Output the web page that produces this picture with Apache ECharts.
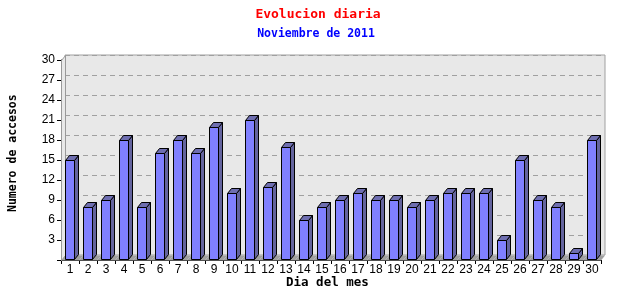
<!DOCTYPE html>
<html>
<head>
<meta charset="utf-8">
<script src="https://cdn.jsdelivr.net/npm/echarts@6/dist/echarts.min.js"></script>
<style>html,body{margin:0;padding:0;background:#fff}#c{width:640px;height:300px}</style>
</head>
<body>
<div id="c"></div>
<script>
const days = ['1','2','3','4','5','6','7','8','9','10','11','12','13','14','15','16','17','18','19','20','21','22','23','24','25','26','27','28','29','30'];
const accesos = [15,8,9,18,8,16,18,16,20,10,21,11,17,6,8,9,10,9,9,8,9,10,10,10,3,15,9,8,1,18];
const yTicks = [0,3,6,9,12,15,18,21,24,27,30];

const DX = 4, DY = 5;
const chart = echarts.init(document.getElementById('c'), null, {renderer: 'canvas'});
const r = v => Math.round(v) + 0.5;

function renderBar(params, api) {
  const i = api.value(0), v = api.value(1);
  const base = api.coord([i, 0]);
  const top = api.coord([i, v]);
  const band = api.size([1, 0])[0];
  const cx = base[0];
  const xl = r(cx - 5.5), xr = r(cx + 3.5);
  const yb = r(base[1]) - 1, yt = r(top[1]);
  const fill = '#8080ff', sideC = '#64649e', topC = '#6e6eb0';
  const st = {stroke: '#000', lineWidth: 1};
  const children = [];
  const x0 = cx - band / 2, x1 = cx + band / 2;
  children.push({type: 'polygon', shape: {points: [[x0, yb + 1], [x0 + DX, yb + 1 - DY], [x1 + DX, yb + 1 - DY], [x1, yb + 1]]},
    style: {fill: '#a0a0a0'}, z2: 0});
  if (i === 0) {
    const t = api.coord([0, 30]);
    children.push({type: 'polygon', shape: {points: [[r(x0), yb + 1], [r(x0) + DX, yb + 1 - DY], [r(x0) + DX, r(t[1]) - DY], [r(x0), r(t[1])]]},
      style: {fill: '#e8e8e8', stroke: '#999', lineWidth: 1}, z2: 1});
  }
  if (v > 0) {
    children.push({type: 'polygon', shape: {points: [[xr, yb], [xr + DX, yb - DY], [xr + DX, yt - DY], [xr, yt]]},
      style: Object.assign({fill: sideC}, st), z2: 2});
    children.push({type: 'polygon', shape: {points: [[xl, yt], [xl + DX, yt - DY], [xr + DX, yt - DY], [xr, yt]]},
      style: Object.assign({fill: topC}, st), z2: 2});
    children.push({type: 'rect', shape: {x: xl, y: yt, width: xr - xl, height: yb - yt},
      style: Object.assign({fill: fill}, st), z2: 3});
  }
  return {type: 'group', children: children};
}

const option = {
  animation: false,
  title: [
    {text: 'Evolucion diaria', left: 313, top: 3, textAlign: 'center',
     textStyle: {color: '#ff0000', fontFamily: 'DejaVu Sans Mono', fontWeight: 'bold', fontSize: 13}},
    {text: 'Noviembre de 2011', left: 311, top: 23, textAlign: 'center',
     textStyle: {color: '#0000ff', fontFamily: 'DejaVu Sans Mono', fontWeight: 'bold', fontSize: 11.5}}
  ],
  grid: [
    {left: 61 + DX, right: 39 - DX, top: 60 - DY, bottom: 40 + DY, show: true, backgroundColor: '#e8e8e8', borderColor: '#a0a0a0', borderWidth: 1},
    {left: 61, right: 39, top: 60, bottom: 40}
  ],
  xAxis: [
    {gridIndex: 0, type: 'category', data: days, show: false},
    {gridIndex: 1, type: 'category', data: days,
     axisLine: {lineStyle: {color: '#000'}},
     axisTick: {show: true, length: 4, lineStyle: {color: '#000'}},
     axisLabel: {color: '#000', fontFamily: 'Liberation Sans', fontSize: 12, margin: 4, interval: 0},
     splitLine: {show: false}}
  ],
  yAxis: [
    {gridIndex: 0, type: 'value', min: 0, max: 30, interval: 3,
     axisLine: {show: false}, axisTick: {show: false}, axisLabel: {show: false},
     splitLine: {show: true, lineStyle: {color: '#a0a0a0', type: [5, 4], width: 1}}},
    {gridIndex: 1, type: 'value', min: 0, max: 30, interval: 3,
     axisLine: {show: true, lineStyle: {color: '#000'}},
     axisTick: {show: true, length: 4, lineStyle: {color: '#000'}},
     axisLabel: {color: '#000', fontFamily: 'Liberation Sans', fontSize: 12, margin: 6,
       formatter: v => (v === 0 ? '' : String(v))},
     splitLine: {show: false}}
  ],
  graphic: [
    {type: 'text', left: 286, top: 276, style: {text: 'Dia del mes', fill: '#000', font: 'bold 12.5px "DejaVu Sans Mono"'}},
    {type: 'text', rotation: Math.PI / 2, x: 7, y: 212, style: {text: 'Numero de accesos', fill: '#000', font: 'bold 11.5px "DejaVu Sans Mono"'}}
  ],
  series: [
    {type: 'custom', xAxisIndex: 1, yAxisIndex: 1, renderItem: renderBar,
     data: accesos.map((v, i) => [i, v]), encode: {x: 0, y: 1}, z: 1, clip: false}
  ]
};
chart.setOption(option);
</script>
</body>
</html>
